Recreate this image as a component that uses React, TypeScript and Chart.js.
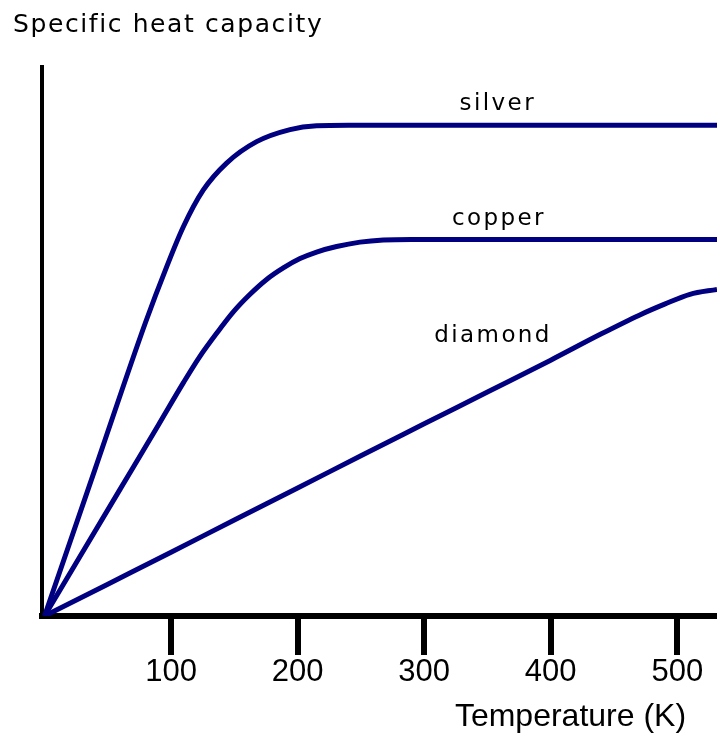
import React, { useEffect, useRef } from "react";
import { Chart, registerables } from "chart.js";

Chart.register(...registerables);

// ---- Data (temperature in K, specific heat in arbitrary units 0..100) ----
const silverT = [0, 40, 80, 96.5, 109.7, 125.5, 143.9, 167.6, 194, 215, 240, 300, 400, 531.4];
const silverC = [0, 26.8, 53.6, 63.6, 70.9, 77.6, 82.5, 86.4, 88.6, 89.3, 89.4, 89.4, 89.4, 89.4];

const copperT = [0, 30, 60, 90, 110, 122.8, 136.0, 149.2, 162.4, 175.5, 188.7, 201.9, 215.0, 230.8, 249.3, 267.7, 290, 400, 531.4];
const copperC = [0, 11.6, 23.2, 34.8, 42.6, 47.3, 51.5, 55.4, 58.6, 61.3, 63.4, 65.1, 66.3, 67.3, 68.1, 68.5, 68.6, 68.6, 68.6];

const diamondT = [0, 50, 100, 150, 200, 250, 300, 350, 400, 440, 470, 490, 510, 531.4];
const diamondC = [0, 5.8, 11.6, 17.5, 23.3, 29.2, 35.0, 40.8, 46.6, 51.4, 54.8, 56.8, 58.6, 59.5];

const xTicks = [100, 200, 300, 400, 500];
const seriesNames = ["silver", "copper", "diamond"];
const yTitle = "Specific heat capacity";
const xTitle = "Temperature (K)";

// label anchors (data coords) — kept separate from the data arrays
const labelAnchors: Record<string, [number, number]> = {
  silver: [328, 92.2],
  copper: [322, 71.2],
  diamond: [308, 50.0],
};

const LINE_COLOR = "#000080";
const FONT = '"Liberation Sans", Arial, sans-serif';
const WIDE_FONT = '"DejaVu Sans", sans-serif';

const toPoints = (xs: number[], ys: number[]) => xs.map((x, i) => ({ x, y: ys[i] }));

const textPlugin = {
  id: "textPlugin",
  afterDraw(chart: any) {
    const { ctx, scales } = chart;
    const x = scales.x;
    const y = scales.y;
    ctx.save();
    ctx.fillStyle = "#000";
    ctx.textAlign = "left";
    ctx.textBaseline = "alphabetic";

    // Y-axis title (horizontal, top-left)
    ctx.font = `25px ${WIDE_FONT}`;
    (ctx as any).letterSpacing = "1.6px";
    ctx.fillText(yTitle, 13, 32);

    // Series labels
    ctx.font = `23px ${WIDE_FONT}`;
    (ctx as any).letterSpacing = "2.4px";
    seriesNames.forEach((name) => {
      const [t, v] = labelAnchors[name];
      ctx.fillText(name, x.getPixelForValue(t), y.getPixelForValue(v));
    });

    // X-axis title
    ctx.font = `32px ${FONT}`;
    (ctx as any).letterSpacing = "0px";
    ctx.fillText(xTitle, x.getPixelForValue(324.3), x.bottom - 12);
    ctx.restore();
  },
};

export default function App() {
  const canvasRef = useRef<HTMLCanvasElement | null>(null);

  useEffect(() => {
    document.body.style.margin = "0";
    const canvas = canvasRef.current;
    if (!canvas) return;
    const mk = (label: string, xs: number[], ys: number[]) => ({
      label,
      data: toPoints(xs, ys),
      borderColor: LINE_COLOR,
      backgroundColor: LINE_COLOR,
      borderWidth: 5,
      pointRadius: 0,
      fill: false,
      cubicInterpolationMode: "monotone" as const,
    });
    const chart = new Chart(canvas, {
      type: "line",
      data: {
        datasets: [
          mk(seriesNames[0], silverT, silverC),
          mk(seriesNames[1], copperT, copperC),
          mk(seriesNames[2], diamondT, diamondC),
        ],
      },
      options: {
        animation: false,
        responsive: false,
        devicePixelRatio: 1,
        layout: { padding: { top: 67, left: 0, right: 0, bottom: 0 } },
        plugins: { legend: { display: false }, tooltip: { enabled: false }, title: { display: false } },
        scales: {
          x: {
            type: "linear",
            min: -2,
            max: 531.4,
            afterBuildTicks: (axis: any) => {
              axis.ticks = xTicks.map((v) => ({ value: v }));
            },
            afterFit: (scale: any) => {
              scale.height = 122;
            },
            grid: {
              display: true,
              drawOnChartArea: false,
              drawTicks: true,
              tickLength: 39,
              lineWidth: 6,
              color: "#000",
            },
            border: { display: true, width: 6, color: "#000" },
            ticks: {
              color: "#000",
              font: { size: 31, family: FONT, lineHeight: 1 },
              padding: 2,
              maxRotation: 0,
              autoSkip: false,
            },
          },
          y: {
            type: "linear",
            min: 0,
            max: 100,
            afterFit: (scale: any) => {
              scale.width = 42;
            },
            grid: { display: false, drawTicks: false },
            border: { display: true, width: 4, color: "#000" },
            ticks: { display: false },
          },
        },
      },
      plugins: [textPlugin],
    });
    return () => chart.destroy();
  }, []);

  return (
    <div style={{ position: "absolute", left: 0, top: 0, width: 717, height: 738, background: "#fff" }}>
      <canvas ref={canvasRef} width={717} height={738} style={{ width: 717, height: 738, display: "block" }} />
    </div>
  );
}
